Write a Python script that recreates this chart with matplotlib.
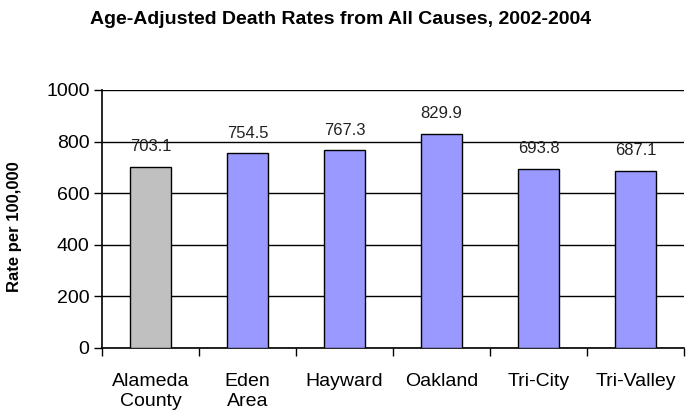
import matplotlib
matplotlib.use("Agg")
import matplotlib.pyplot as plt

categories = ["Alameda\nCounty", "Eden\nArea", "Hayward", "Oakland", "Tri-City", "Tri-Valley"]
values = [703.1, 754.5, 767.3, 829.9, 693.8, 687.1]
colors = ["#C0C0C0", "#9999FF", "#9999FF", "#9999FF", "#9999FF", "#9999FF"]

plt.rcParams['font.family'] = ['Liberation Sans', 'DejaVu Sans']

fig = plt.figure(figsize=(6.91, 4.18), dpi=100)
ax = fig.add_axes([102/691, 1 - 348/418, (684-102)/691, (348-90)/418])

x = list(range(len(categories)))
ax.bar(x, values, width=0.43, color=colors, edgecolor="black", linewidth=1.0, zorder=3)
for xi, v in zip(x, values):
    ax.annotate(f"{v:.1f}", (xi, v), xytext=(0, 9), textcoords="offset points",
                ha="center", va="bottom", fontsize=12, color="#222222")

ax.set_xlim(-0.5, len(categories) - 0.5)
ax.set_ylim(0, 1000)
ax.set_yticks(range(0, 1001, 200))
ax.yaxis.grid(True, color="black", linewidth=1.0, zorder=0)
ax.set_axisbelow(True)
ax.set_xticks([i + 0.5 for i in range(-1, len(categories))], minor=False)
ax.set_xticklabels([])
ax.set_xticks(x, minor=True)
ax.set_xticklabels(categories, minor=True, fontsize=14)
ax.tick_params(axis="x", which="minor", length=0, pad=18)
ax.tick_params(axis="x", which="major", length=6, width=1, direction="out")
ax.tick_params(axis="y", length=6, width=1, direction="out", labelsize=14, pad=3)
for s in ["top", "right"]:
    ax.spines[s].set_visible(False)
ax.spines["left"].set_linewidth(1.2)
ax.spines["bottom"].set_linewidth(1.2)

ax.set_ylabel("Rate per 100,000", fontsize=12, fontweight="bold")
ax.yaxis.set_label_coords(-80/582, 0.47)
fig.text(341/691, 1 - 19/418, "Age-Adjusted Death Rates from All Causes, 2002-2004",
         ha="center", va="center", fontsize=14, fontweight="bold")

fig.savefig("out.png", dpi=100)
